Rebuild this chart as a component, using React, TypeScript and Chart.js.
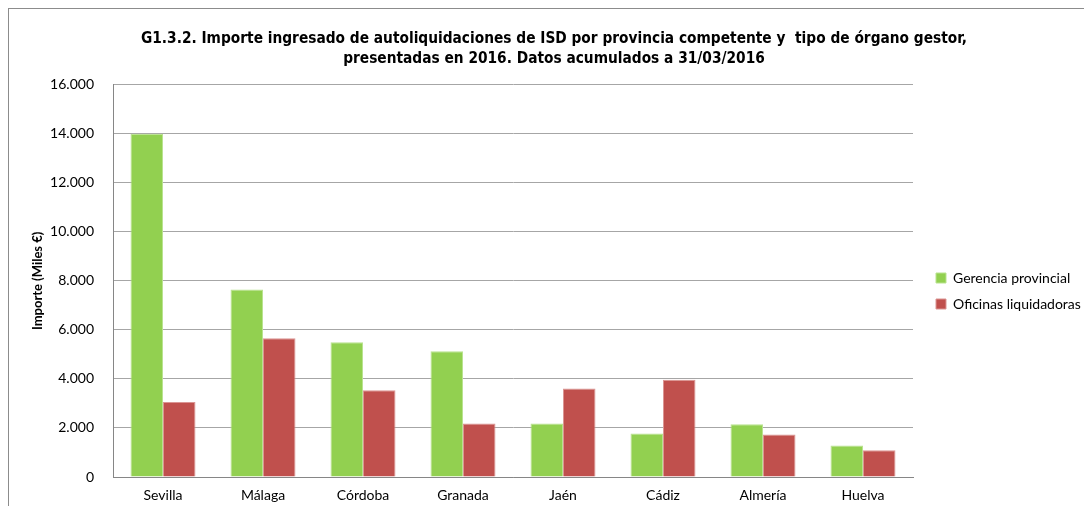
import React, { useEffect, useRef } from "react";
import { Chart, registerables } from "chart.js";

Chart.register(...registerables);

const titleLines = [
  "G1.3.2. Importe ingresado de autoliquidaciones de ISD por provincia competente y  tipo de órgano gestor,",
  "presentadas en 2016. Datos acumulados a 31/03/2016",
];
const categories = ["Sevilla", "Málaga", "Córdoba", "Granada", "Jaén", "Cádiz", "Almería", "Huelva"];
const seriesNames = ["Gerencia provincial", "Oficinas liquidadoras"];
const gerencia = [14000, 7650, 5500, 5130, 2180, 1770, 2150, 1290];
const oficinas = [3060, 5660, 3540, 2180, 3610, 3970, 1730, 1090];
const yMin = 0;
const yMax = 16000;
const yStep = 2000;
const yTitle = "Importe (Miles €)";

const W = 1076;
const H = 498;
const LEGEND_W = 171;
const LEGEND_DX = 11;
const LEGEND_DY = 34;
const TITLE_DX = 8;

function fmt(v: number): string {
  const s = Math.round(v).toString();
  return s.replace(/\B(?=(\d{3})+(?!\d))/g, ".");
}

const framePlugin = {
  id: "frame",
  beforeDraw(chart: any) {
    const ctx = chart.ctx;
    ctx.save();
    ctx.fillStyle = "#ffffff";
    ctx.fillRect(0, 0, chart.width, chart.height);
    ctx.strokeStyle = "#8c8c8c";
    ctx.lineWidth = 1;
    ctx.strokeRect(0.5, 0.5, chart.width + 40, chart.height + 40);
    ctx.restore();
  },
};

const layoutFixPlugin = {
  id: "layoutFix",
  beforeLayout(chart: any) {
    const lg = chart.legend;
    if (lg && !lg.__patched) {
      const orig = lg.fit.bind(lg);
      lg.fit = function () {
        orig();
        this.width = LEGEND_W;
      };
      lg.__patched = true;
    }
  },
  afterLayout(chart: any) {
    const lg = chart.legend;
    if (lg) {
      lg.left += LEGEND_DX;
      lg.right += LEGEND_DX;
      lg.top += LEGEND_DY;
      lg.bottom += LEGEND_DY;
    }
    const tb = chart.titleBlock;
    if (tb) {
      tb.left += TITLE_DX;
      tb.right += TITLE_DX;
    }
  },
};

export default function App() {
  const ref = useRef<HTMLCanvasElement | null>(null);

  useEffect(() => {
    if (!ref.current) return;
    const chart = new Chart(ref.current, {
      type: "bar",
      data: {
        labels: categories,
        datasets: [
          {
            label: seriesNames[0],
            data: gerencia,
            backgroundColor: "#92D050",
            borderColor: "#B9E38F",
            borderWidth: 1,
            barPercentage: 1,
            categoryPercentage: 0.65,
          },
          {
            label: seriesNames[1],
            data: oficinas,
            backgroundColor: "#C0504D",
            borderColor: "#DB9593",
            borderWidth: 1,
            barPercentage: 1,
            categoryPercentage: 0.65,
          },
        ],
      },
      options: {
        responsive: false,
        animation: false,
        layout: { padding: 0 },
        plugins: {
          title: {
            display: true,
            text: titleLines,
            color: "#000000",
            font: { family: "'DejaVu Sans Condensed', 'Liberation Sans Narrow', Roboto, sans-serif", size: 15.3, weight: "bold", lineHeight: 1.3 },
            padding: { top: 21, bottom: 16 },
          },
          legend: {
            position: "right",
            align: "center",
            labels: {
              boxWidth: 10,
              boxHeight: 10,
              padding: 12,
              color: "#000000",
              font: { family: "Lato, Carlito, sans-serif", size: 14 },
            },
          },
          tooltip: { enabled: false },
        },
        scales: {
          x: {
            grid: { display: false, drawTicks: false },
            border: { display: true, color: "#868686", width: 1 },
            ticks: {
              color: "#000000",
              padding: 10,
              font: { family: "Lato, Carlito, sans-serif", size: 14 },
            },
            afterFit(scale: any) {
              scale.height = 29;
            },
          },
          y: {
            min: yMin,
            max: yMax,
            grid: { color: "#A6A6A6", drawTicks: false },
            border: { display: true, color: "#868686", width: 1 },
            ticks: {
              stepSize: yStep,
              color: "#000000",
              padding: 19,
              font: { family: "Lato, Carlito, sans-serif", size: 14 },
              callback: (v: any) => fmt(Number(v)),
            },
            title: {
              display: true,
              text: yTitle,
              color: "#000000",
              font: { family: "Lato, Carlito, sans-serif", size: 13, weight: "bold" },
              padding: { top: 22, bottom: 0 },
            },
            afterFit(scale: any) {
              scale.width = 105;
            },
          },
        },
      },
      plugins: [framePlugin, layoutFixPlugin],
    } as any);
    return () => chart.destroy();
  }, []);

  return (
    <div style={{ position: "fixed", left: 8, top: 8, width: W, height: H, overflow: "hidden" }}>
      <canvas ref={ref} width={W} height={H} style={{ display: "block", width: W, height: H }} />
    </div>
  );
}
